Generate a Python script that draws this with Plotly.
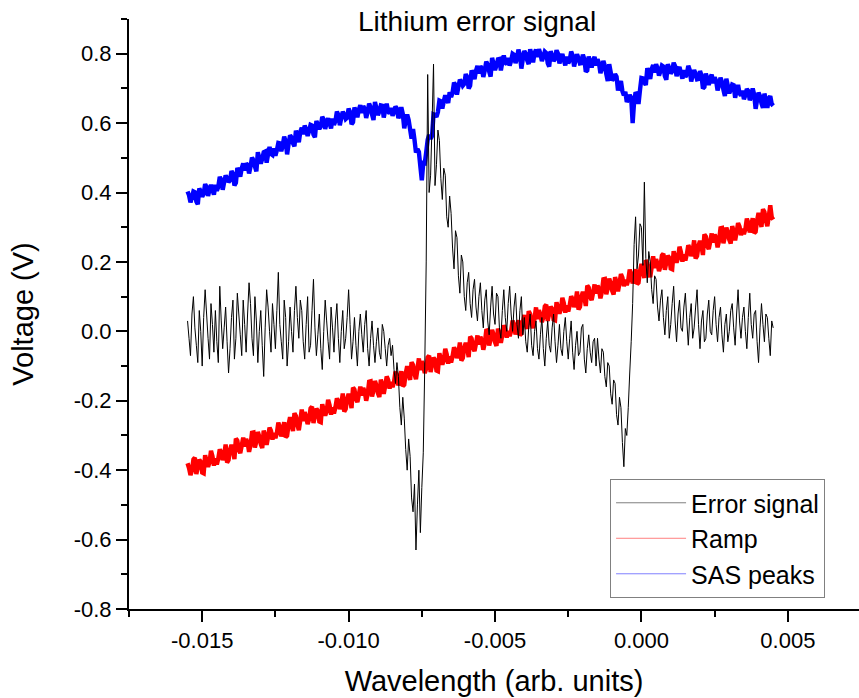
import plotly.graph_objects as go

# ---- data ----
# all three traces sampled every 0.00005 from -0.0155 to 0.0045
x_start = -0.0155
x_step = 0.00005

error_signal = [
    0.03, -0.02, -0.07, 0.05, 0.10, 0.01, -0.04, -0.09, 0.06, 0.00, -0.10, 0.04, 0.12, 0.05, -0.02, -0.08, 0.08, 0.02, -0.06, 0.06,
    -0.03, -0.09, 0.13, 0.03, -0.05, 0.01, 0.07, -0.03, -0.12, -0.05, 0.04, 0.09, -0.08, -0.02, 0.11, 0.05, -0.01, -0.07, 0.09, 0.02,
    -0.06, 0.05, 0.14, 0.08, -0.02, -0.07, 0.10, 0.03, -0.09, 0.00, 0.06, -0.04, -0.13, 0.01, 0.12, 0.07, 0.00, -0.06, 0.08, 0.02,
    -0.05, 0.06, 0.17, 0.02, -0.03, -0.08, 0.09, 0.04, -0.10, -0.03, 0.07, 0.00, -0.06, 0.06, 0.13, 0.04, -0.02, 0.09, 0.06, -0.03,
    -0.08, 0.02, 0.10, -0.06, -0.04, 0.06, 0.15, 0.01, -0.07, -0.01, 0.05, -0.05, -0.11, 0.00, 0.09, 0.03, -0.03, -0.08, 0.07, 0.01,
    -0.06, 0.03, 0.08, -0.02, -0.09, 0.00, 0.06, -0.05, -0.02, 0.04, 0.12, 0.02, -0.08, -0.03, 0.04, -0.04, -0.10, 0.00, 0.05, -0.01,
    -0.06, 0.02, 0.06, -0.05, -0.10, -0.02, 0.03, -0.04, -0.09, -0.03, 0.01, -0.06, -0.08, 0.02, 0.00, -0.05, -0.10, -0.04, -0.02, -0.07,
    -0.04, -0.11, -0.15, -0.09, -0.13, -0.22, -0.27, -0.19, -0.25, -0.34, -0.40, -0.31, -0.36, -0.48, -0.52, -0.44, -0.63, -0.50, -0.40, -0.58,
    -0.45, -0.35, -0.10, 0.20, 0.74, 0.40, 0.45, 0.60, 0.77, 0.42, 0.48, 0.58, 0.55, 0.44, 0.38, 0.47, 0.45, 0.33, 0.30, 0.39,
    0.34, 0.24, 0.18, 0.29, 0.27, 0.16, 0.11, 0.22, 0.20, 0.10, 0.06, 0.14, 0.17, 0.08, 0.04, 0.12, 0.15, 0.07, 0.03, 0.10,
    0.14, 0.06, 0.01, 0.09, 0.12, 0.03, -0.01, 0.07, 0.13, 0.05, 0.02, 0.11, 0.10, 0.01, -0.02, 0.06, 0.12, 0.04, 0.00, 0.08,
    0.13, 0.05, 0.00, 0.07, 0.11, 0.02, -0.02, 0.06, 0.10, -0.01, 0.04, -0.03, -0.06, 0.01, 0.05, -0.04, -0.07, 0.00, 0.03, -0.05,
    -0.08, -0.01, 0.04, -0.05, -0.10, -0.02, 0.03, -0.04, -0.06, 0.01, 0.05, -0.03, -0.09, -0.04, 0.02, -0.05, -0.07, 0.00, 0.04, -0.03,
    -0.08, -0.02, 0.03, -0.06, -0.11, -0.04, 0.00, -0.07, -0.06, 0.01, 0.02, -0.08, -0.12, -0.05, -0.01, -0.06, -0.09, -0.03, -0.02, -0.10,
    -0.02, -0.08, -0.12, -0.05, -0.06, -0.13, -0.16, -0.09, -0.10, -0.18, -0.21, -0.14, -0.15, -0.24, -0.27, -0.19, -0.22, -0.32, -0.39, -0.28,
    -0.30, -0.22, -0.12, -0.03, 0.08, 0.25, 0.33, 0.18, 0.22, 0.31, 0.30, 0.19, 0.43, 0.21, 0.14, 0.23, 0.20, 0.12, 0.08, 0.16,
    0.15, 0.07, 0.03, 0.09, 0.12, 0.04, -0.01, 0.06, 0.10, -0.02, 0.02, 0.08, 0.13, 0.03, -0.03, 0.05, 0.09, 0.01, 0.00, 0.07,
    0.11, 0.03, -0.04, 0.04, 0.08, -0.02, 0.01, 0.07, 0.12, 0.02, -0.05, 0.03, 0.06, -0.03, -0.02, 0.05, 0.09, 0.00, -0.01, 0.06,
    0.10, 0.02, -0.03, 0.04, 0.07, -0.01, -0.06, 0.02, 0.05, -0.03, 0.00, 0.06, 0.08, 0.01, -0.04, 0.05, 0.12, 0.03, -0.02, 0.04,
    0.07, 0.00, -0.05, 0.04, 0.11, 0.02, -0.02, 0.05, 0.06, -0.03, -0.09, 0.01, 0.08, 0.02, -0.03, 0.05, 0.04, -0.02, -0.07, 0.03,
    0.01,
]

ramp = [
    -0.380, -0.394, -0.414, -0.401, -0.369, -0.364, -0.411, -0.390, -0.370, -0.376, -0.407, -0.409, -0.357, -0.374, -0.390, -0.377, -0.344, -0.360, -0.387, -0.366,
    -0.384, -0.366, -0.340, -0.349, -0.371, -0.356, -0.326, -0.378, -0.371, -0.341, -0.327, -0.342, -0.368, -0.309, -0.315, -0.342, -0.351, -0.329, -0.306, -0.332,
    -0.310, -0.321, -0.347, -0.328, -0.292, -0.291, -0.335, -0.317, -0.290, -0.303, -0.325, -0.336, -0.286, -0.301, -0.327, -0.304, -0.277, -0.287, -0.312, -0.293,
    -0.308, -0.293, -0.263, -0.276, -0.303, -0.283, -0.262, -0.305, -0.301, -0.268, -0.247, -0.269, -0.287, -0.236, -0.244, -0.269, -0.285, -0.256, -0.225, -0.259,
    -0.233, -0.247, -0.267, -0.254, -0.222, -0.217, -0.264, -0.243, -0.223, -0.229, -0.260, -0.262, -0.210, -0.227, -0.243, -0.230, -0.197, -0.213, -0.240, -0.219,
    -0.237, -0.219, -0.193, -0.202, -0.224, -0.209, -0.179, -0.231, -0.224, -0.194, -0.180, -0.195, -0.221, -0.162, -0.168, -0.195, -0.204, -0.182, -0.159, -0.185,
    -0.163, -0.174, -0.200, -0.181, -0.145, -0.144, -0.188, -0.170, -0.143, -0.156, -0.178, -0.189, -0.139, -0.154, -0.180, -0.157, -0.130, -0.140, -0.165, -0.146,
    -0.161, -0.146, -0.116, -0.129, -0.156, -0.136, -0.115, -0.158, -0.154, -0.121, -0.100, -0.122, -0.140, -0.089, -0.097, -0.122, -0.138, -0.109, -0.078, -0.112,
    -0.086, -0.100, -0.120, -0.107, -0.075, -0.070, -0.117, -0.096, -0.076, -0.082, -0.113, -0.115, -0.063, -0.080, -0.096, -0.083, -0.050, -0.066, -0.093, -0.072,
    -0.090, -0.072, -0.046, -0.055, -0.077, -0.062, -0.032, -0.084, -0.077, -0.047, -0.033, -0.048, -0.074, -0.015, -0.021, -0.048, -0.057, -0.035, -0.012, -0.038,
    -0.016, -0.027, -0.053, -0.034, 0.002, 0.003, -0.041, -0.023, 0.004, -0.009, -0.031, -0.042, 0.008, -0.007, -0.033, -0.010, 0.017, 0.007, -0.018, 0.001,
    -0.014, 0.001, 0.031, 0.018, -0.009, 0.011, 0.032, -0.011, -0.007, 0.026, 0.047, 0.025, 0.007, 0.058, 0.050, 0.025, 0.009, 0.038, 0.069, 0.035,
    0.061, 0.047, 0.027, 0.040, 0.072, 0.077, 0.030, 0.051, 0.071, 0.065, 0.034, 0.032, 0.084, 0.067, 0.051, 0.064, 0.097, 0.081, 0.054, 0.075,
    0.057, 0.075, 0.101, 0.092, 0.070, 0.085, 0.115, 0.063, 0.070, 0.100, 0.114, 0.099, 0.073, 0.132, 0.126, 0.099, 0.090, 0.112, 0.135, 0.109,
    0.132, 0.121, 0.095, 0.114, 0.150, 0.151, 0.107, 0.125, 0.152, 0.139, 0.117, 0.106, 0.156, 0.141, 0.115, 0.138, 0.165, 0.155, 0.130, 0.149,
    0.133, 0.148, 0.178, 0.165, 0.138, 0.158, 0.179, 0.136, 0.140, 0.173, 0.194, 0.172, 0.154, 0.205, 0.197, 0.172, 0.156, 0.185, 0.216, 0.182,
    0.208, 0.194, 0.174, 0.187, 0.219, 0.224, 0.177, 0.198, 0.218, 0.212, 0.181, 0.179, 0.231, 0.214, 0.198, 0.211, 0.244, 0.228, 0.201, 0.222,
    0.204, 0.222, 0.248, 0.239, 0.217, 0.232, 0.262, 0.210, 0.217, 0.247, 0.261, 0.246, 0.220, 0.279, 0.273, 0.246, 0.237, 0.259, 0.282, 0.256,
    0.279, 0.268, 0.242, 0.261, 0.297, 0.298, 0.254, 0.272, 0.299, 0.286, 0.264, 0.253, 0.303, 0.288, 0.262, 0.285, 0.312, 0.302, 0.277, 0.296,
    0.280, 0.295, 0.325, 0.312, 0.285, 0.305, 0.326, 0.283, 0.287, 0.320, 0.341, 0.319, 0.301, 0.352, 0.344, 0.319, 0.303, 0.332, 0.363, 0.329,
    0.322,
]

sas_peaks = [
    0.403, 0.392, 0.372, 0.386, 0.403, 0.401, 0.374, 0.366, 0.412, 0.402, 0.388, 0.396, 0.424, 0.416, 0.390, 0.408, 0.422, 0.407, 0.394, 0.422,
    0.405, 0.417, 0.445, 0.437, 0.408, 0.430, 0.449, 0.442, 0.430, 0.435, 0.462, 0.454, 0.420, 0.428, 0.471, 0.460, 0.446, 0.470, 0.484, 0.463,
    0.484, 0.478, 0.455, 0.475, 0.501, 0.493, 0.475, 0.461, 0.516, 0.500, 0.483, 0.497, 0.516, 0.518, 0.486, 0.511, 0.531, 0.511, 0.508, 0.527,
    0.506, 0.522, 0.543, 0.542, 0.519, 0.535, 0.561, 0.547, 0.510, 0.540, 0.565, 0.559, 0.542, 0.533, 0.578, 0.565, 0.545, 0.575, 0.587, 0.568,
    0.593, 0.582, 0.563, 0.577, 0.595, 0.593, 0.567, 0.559, 0.606, 0.596, 0.583, 0.591, 0.618, 0.610, 0.583, 0.601, 0.614, 0.599, 0.585, 0.613,
    0.595, 0.606, 0.633, 0.624, 0.594, 0.615, 0.633, 0.625, 0.612, 0.616, 0.642, 0.632, 0.597, 0.603, 0.645, 0.632, 0.617, 0.639, 0.652, 0.629,
    0.649, 0.641, 0.615, 0.633, 0.656, 0.646, 0.625, 0.609, 0.661, 0.643, 0.623, 0.634, 0.651, 0.650, 0.616, 0.638, 0.656, 0.633, 0.628, 0.644,
    0.621, 0.632, 0.648, 0.642, 0.614, 0.625, 0.646, 0.627, 0.585, 0.607, 0.625, 0.609, 0.582, 0.555, 0.583, 0.552, 0.515, 0.525, 0.517, 0.475,
    0.435, 0.485, 0.484, 0.516, 0.552, 0.566, 0.555, 0.563, 0.625, 0.623, 0.618, 0.632, 0.665, 0.663, 0.642, 0.663, 0.680, 0.668, 0.658, 0.689,
    0.675, 0.688, 0.717, 0.710, 0.682, 0.705, 0.725, 0.719, 0.708, 0.713, 0.741, 0.733, 0.700, 0.708, 0.752, 0.741, 0.727, 0.751, 0.765, 0.743,
    0.764, 0.757, 0.733, 0.752, 0.777, 0.768, 0.749, 0.734, 0.788, 0.771, 0.753, 0.766, 0.784, 0.785, 0.752, 0.776, 0.795, 0.774, 0.770, 0.788,
    0.766, 0.780, 0.800, 0.797, 0.773, 0.787, 0.812, 0.796, 0.757, 0.785, 0.808, 0.800, 0.781, 0.770, 0.813, 0.797, 0.775, 0.802, 0.812, 0.790,
    0.813, 0.800, 0.779, 0.791, 0.806, 0.802, 0.773, 0.763, 0.807, 0.795, 0.779, 0.785, 0.810, 0.800, 0.772, 0.788, 0.799, 0.782, 0.766, 0.792,
    0.772, 0.781, 0.806, 0.795, 0.763, 0.782, 0.798, 0.787, 0.772, 0.773, 0.797, 0.785, 0.748, 0.752, 0.792, 0.777, 0.760, 0.780, 0.791, 0.766,
    0.784, 0.773, 0.744, 0.759, 0.779, 0.765, 0.741, 0.721, 0.770, 0.747, 0.723, 0.729, 0.741, 0.734, 0.694, 0.710, 0.721, 0.692, 0.680, 0.690,
    0.661, 0.668, 0.681, 0.673, 0.600, 0.661, 0.689, 0.683, 0.655, 0.695, 0.730, 0.729, 0.717, 0.710, 0.758, 0.746, 0.727, 0.756, 0.767, 0.746,
    0.770, 0.758, 0.737, 0.750, 0.766, 0.763, 0.735, 0.725, 0.770, 0.758, 0.743, 0.749, 0.774, 0.764, 0.735, 0.751, 0.762, 0.744, 0.728, 0.753,
    0.733, 0.741, 0.765, 0.753, 0.720, 0.738, 0.753, 0.742, 0.726, 0.727, 0.750, 0.738, 0.700, 0.704, 0.743, 0.728, 0.710, 0.730, 0.740, 0.715,
    0.732, 0.722, 0.694, 0.710, 0.731, 0.719, 0.696, 0.678, 0.728, 0.708, 0.686, 0.696, 0.711, 0.709, 0.673, 0.694, 0.710, 0.686, 0.679, 0.694,
    0.669, 0.681, 0.698, 0.693, 0.666, 0.678, 0.700, 0.682, 0.641, 0.667, 0.688, 0.678, 0.657, 0.644, 0.685, 0.668, 0.644, 0.670, 0.678, 0.655,
    0.650,
]

series_names = ["Error signal", "Ramp", "SAS peaks"]
x_tick_values = [-0.015, -0.010, -0.005, 0.000, 0.005]
x_tick_labels = ["-0.015", "-0.010", "-0.005", "0.000", "0.005"]
y_tick_values = [-0.8, -0.6, -0.4, -0.2, 0.0, 0.2, 0.4, 0.6, 0.8]
y_tick_labels = ["-0.8", "-0.6", "-0.4", "-0.2", "0.0", "0.2", "0.4", "0.6", "0.8"]

wavelength = [round(x_start + i * x_step, 6) for i in range(len(error_signal))]

FONT = "Arial, 'Liberation Sans', sans-serif"

fig = go.Figure()
fig.add_trace(go.Scatter(x=wavelength, y=sas_peaks, mode="lines",
                         line=dict(color="#0000ff", width=4.4, simplify=False),
                         showlegend=False, name=series_names[2]))
fig.add_trace(go.Scatter(x=wavelength, y=ramp, mode="lines",
                         line=dict(color="#ff0000", width=4.4, simplify=False),
                         showlegend=False, name=series_names[1]))
fig.add_trace(go.Scatter(x=wavelength, y=error_signal, mode="lines",
                         line=dict(color="#000000", width=1, simplify=False),
                         showlegend=False, name=series_names[0]))

# legend entries (thin, light line samples as in the reference)
legend_colors = ["#7f7f7f", "#ff8080", "#8080ff"]
for name, col in zip(series_names, legend_colors):
    fig.add_trace(go.Scatter(x=[None], y=[None], mode="lines", name=name,
                             line=dict(color=col, width=1), showlegend=True))

fig.update_layout(
    width=859, height=698,
    margin=dict(l=129, r=0, t=19, b=89),
    paper_bgcolor="white", plot_bgcolor="white",
    font=dict(family=FONT, color="black"),
    showlegend=True,
    legend=dict(x=0.659, y=0.2203, xanchor="left", yanchor="top",
                bgcolor="white", bordercolor="#808080", borderwidth=1,
                font=dict(size=25, family=FONT), itemwidth=70,
                tracegroupgap=0),
    annotations=[dict(text="Lithium error signal", x=0.477, y=0.995,
                      xref="paper", yref="paper", xanchor="center",
                      yanchor="middle", showarrow=False,
                      font=dict(size=28, family=FONT))],
)

fig.update_xaxes(
    range=[-0.0175, 0.00743], showgrid=False, zeroline=False,
    showline=True, linecolor="black", linewidth=2,
    ticks="outside", ticklen=11, tickwidth=2, tickcolor="black",
    tickvals=x_tick_values, ticktext=x_tick_labels,
    tickfont=dict(size=22, family=FONT),
    minor=dict(ticks="outside", ticklen=6, tickwidth=2, tickcolor="black", dtick=0.0025, tick0=-0.0175),
    title=dict(text="Wavelength (arb. units)", font=dict(size=29, family=FONT), standoff=18),
)
fig.update_yaxes(
    range=[-0.8, 0.9], showgrid=False, zeroline=False,
    showline=True, linecolor="black", linewidth=2,
    ticks="outside", ticklen=11, tickwidth=2, tickcolor="black",
    tickvals=y_tick_values, ticktext=y_tick_labels,
    tickfont=dict(size=22, family=FONT),
    minor=dict(ticks="outside", ticklen=6, tickwidth=2, tickcolor="black", dtick=0.1, tick0=-0.8),
    title=dict(text="Voltage (V)", font=dict(size=29, family=FONT), standoff=32),
)

fig.write_html("out.html")
